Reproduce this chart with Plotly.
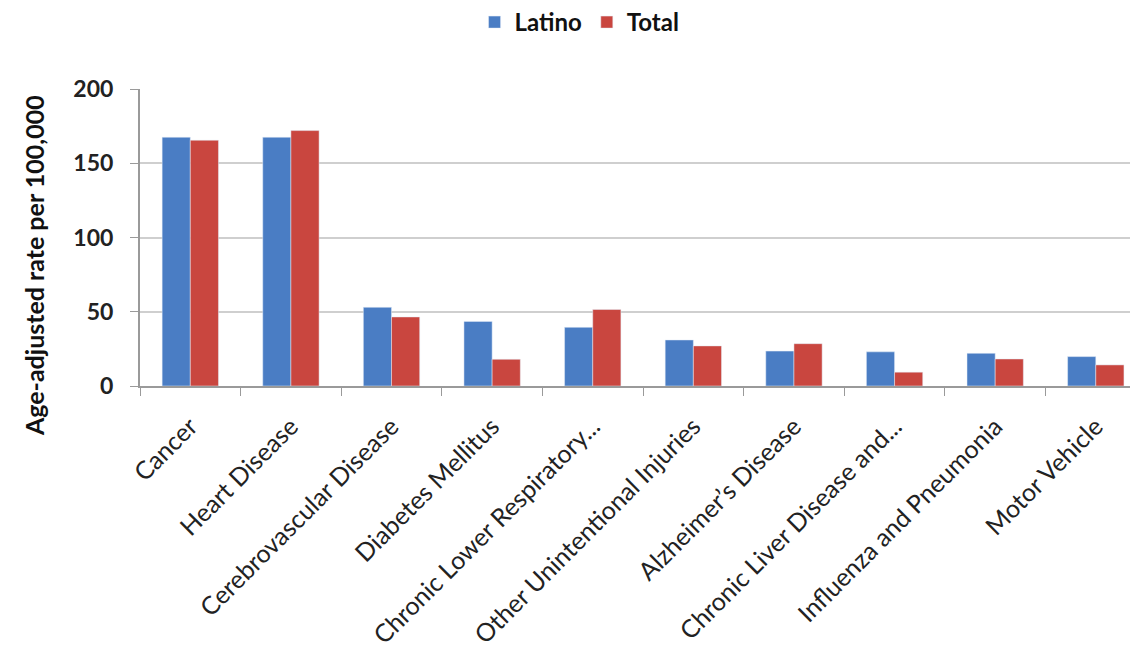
import plotly.graph_objects as go

# Leading causes of death: age-adjusted rate per 100,000
causes = [
    "Cancer",
    "Heart Disease",
    "Cerebrovascular Disease",
    "Diabetes Mellitus",
    "Chronic Lower Respiratory...",
    "Other Unintentional Injuries",
    "Alzheimer’s Disease",
    "Chronic Liver Disease and...",
    "Influenza and Pneumonia",
    "Motor Vehicle",
]
latino = [167.5, 167.5, 53.0, 43.5, 39.5, 31.0, 23.5, 23.0, 22.0, 19.8]
total = [165.5, 172.0, 46.5, 18.0, 51.5, 27.0, 28.5, 9.3, 18.2, 14.2]
y_ticks = [0, 50, 100, 150, 200]

BLUE = "#4A7DC4"
RED = "#C9463F"
FONT = "Lato, 'Open Sans', sans-serif"

fig = go.Figure()
fig.add_trace(go.Bar(name="Latino", x=causes, y=latino, marker_color=BLUE))
fig.add_trace(go.Bar(name="Total", x=causes, y=total, marker_color=RED))

fig.update_layout(
    width=1130,
    height=655,
    margin=dict(l=140, r=0, t=89, b=269),
    paper_bgcolor="white",
    plot_bgcolor="white",
    barmode="group",
    bargap=0.44,
    bargroupgap=0,
    font=dict(family=FONT, color="#1a1a1a"),
    legend=dict(
        orientation="h",
        x=0.444,
        xanchor="center",
        y=1.0,
        yref="container",
        yanchor="top",
        font=dict(size=24, family=FONT, weight="bold", color="#111"),
        itemwidth=30,
        traceorder="normal",
    ),
    showlegend=True,
)

fig.update_xaxes(
    range=[-0.5, 9.34],
    tickangle=-45,
    tickfont=dict(size=25, family=FONT, color="#222"),
    ticklabelstandoff=14,
    showline=True,
    linecolor="#9a9a9a",
    linewidth=2,
    ticks="outside",
    tickson="boundaries",
    ticklen=8,
    tickcolor="#9a9a9a",
    showgrid=False,
)

fig.update_yaxes(
    range=[0, 200],
    tickvals=y_ticks,
    tickfont=dict(size=23, family=FONT, weight="bold", color="#222"),
    showline=True,
    linecolor="#9a9a9a",
    linewidth=2,
    ticks="outside",
    ticklen=8,
    tickcolor="#9a9a9a",
    ticklabelstandoff=12,
    showgrid=True,
    gridcolor="#cfcfcf",
    gridwidth=2,
    zeroline=False,
)

# Axis title placed as a rotated annotation beside the tick labels
fig.add_annotation(
    text="Age-adjusted rate per 100,000",
    xref="paper",
    yref="paper",
    x=-0.107,
    y=0.404,
    xanchor="center",
    yanchor="middle",
    textangle=-90,
    showarrow=False,
    font=dict(size=25, family=FONT, weight="bold", color="#111"),
)

fig.write_html("out.html")
